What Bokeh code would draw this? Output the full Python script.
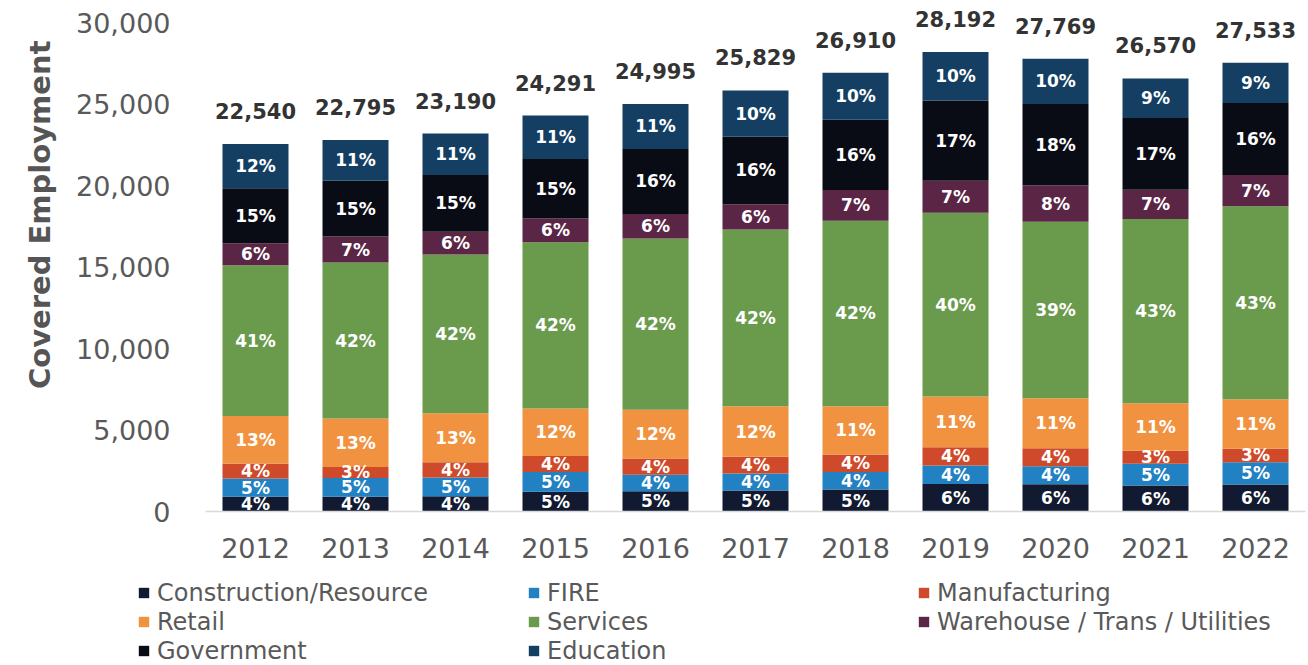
import math
from bokeh.plotting import figure
from bokeh.layouts import column
from bokeh.models import (ColumnDataSource, FactorRange, Range1d, FixedTicker,
                          NumeralTickFormatter, Legend, LegendItem, Title)
from bokeh.core.properties import value
from bokeh.embed import file_html
from bokeh.resources import INLINE

# ---------------- data ----------------
years = ["2012", "2013", "2014", "2015", "2016", "2017", "2018", "2019", "2020", "2021", "2022"]
totals = [22540, 22795, 23190, 24291, 24995, 25829, 26910, 28192, 27769, 26570, 27533]

sectors = ["Construction/Resource", "FIRE", "Manufacturing", "Retail", "Services",
           "Warehouse / Trans / Utilities", "Government", "Education"]
sector_keys = ["construction", "fire", "manufacturing", "retail", "services",
               "warehouse", "government", "education"]
colors = ["#111a30", "#2281c2", "#cf4a2a", "#f0923f", "#6a9a4c",
          "#5b2546", "#0a0c15", "#143f63"]

construction = [902, 912, 928, 1215, 1250, 1291, 1346, 1692, 1666, 1594, 1652]
fire = [1127, 1140, 1160, 1215, 1000, 1033, 1076, 1128, 1111, 1329, 1377]
manufacturing = [902, 684, 928, 972, 1000, 1033, 1076, 1128, 1111, 797, 826]
retail = [2930, 2963, 3015, 2915, 2999, 3099, 2960, 3101, 3055, 2923, 3029]
services = [9241, 9574, 9740, 10202, 10498, 10848, 11380, 11277, 10830, 11300, 11839]
warehouse = [1352, 1596, 1391, 1457, 1500, 1550, 1884, 1973, 2222, 1800, 1927]
government = [3381, 3419, 3479, 3644, 3999, 4133, 4306, 4916, 4998, 4400, 4405]
education = [2705, 2507, 2549, 2671, 2749, 2842, 2882, 2977, 2776, 2427, 2478]

pct_construction = [4, 4, 4, 5, 5, 5, 5, 6, 6, 6, 6]
pct_fire = [5, 5, 5, 5, 4, 4, 4, 4, 4, 5, 5]
pct_manufacturing = [4, 3, 4, 4, 4, 4, 4, 4, 4, 3, 3]
pct_retail = [13, 13, 13, 12, 12, 12, 11, 11, 11, 11, 11]
pct_services = [41, 42, 42, 42, 42, 42, 42, 40, 39, 43, 43]
pct_warehouse = [6, 7, 6, 6, 6, 6, 7, 7, 8, 7, 7]
pct_government = [15, 15, 15, 15, 16, 16, 16, 17, 18, 17, 16]
pct_education = [12, 11, 11, 11, 11, 10, 10, 10, 10, 9, 9]

y_ticks = [0, 5000, 10000, 15000, 20000, 25000, 30000]

series = [construction, fire, manufacturing, retail, services, warehouse, government, education]
pcts = [pct_construction, pct_fire, pct_manufacturing, pct_retail, pct_services,
        pct_warehouse, pct_government, pct_education]

FONT = "DejaVu Sans"

source = ColumnDataSource(dict(year=years, **{k: s for k, s in zip(sector_keys, series)}))

p = figure(x_range=FactorRange(*years, range_padding=0),
           y_range=Range1d(0, 31350),
           width=1308, height=575,
           min_border_left=205, min_border_right=3,
           min_border_top=0, min_border_bottom=64,
           output_backend="svg", toolbar_location=None,
           background_fill_color="white", border_fill_color="white")
p.frame_align = False

renderers = p.vbar_stack(sector_keys, x="year", width=0.66, color=colors,
                         line_color=None, source=source)

# segment percent labels
lx, ly, lt = [], [], []
for i, yr in enumerate(years):
    base = 0
    for s, pc in zip(series, pcts):
        lx.append(yr)
        ly.append(base + s[i] / 2)
        lt.append(f"{pc[i]}%")
        base += s[i]
p.text(x=lx, y=ly, text=lt, text_color="white", text_font=value(FONT),
       text_font_style="bold", text_font_size="17px",
       text_align="center", text_baseline="middle")

# total labels
p.text(x=years, y=totals, text=[f"{t:,}" for t in totals], y_offset=-33,
       text_color="#333333", text_font=value(FONT), text_font_style="bold",
       text_font_size="21px", text_align="center", text_baseline="middle")

# axes
p.xgrid.visible = False
p.ygrid.visible = False
p.outline_line_color = None

p.xaxis.axis_line_color = "#d9d9d9"
p.xaxis.axis_line_width = 1.5
p.xaxis.major_tick_line_color = None
p.xaxis.minor_tick_line_color = None
p.xaxis.major_label_text_font = FONT
p.xaxis.major_label_text_font_size = "27px"
p.xaxis.major_label_text_color = "#595959"
p.xaxis.major_label_standoff = 20

p.yaxis.axis_line_color = None
p.yaxis.major_tick_line_color = None
p.yaxis.minor_tick_line_color = None
p.yaxis.ticker = FixedTicker(ticks=y_ticks)
p.yaxis.formatter = NumeralTickFormatter(format="0,0")
p.yaxis.major_label_text_font = FONT
p.yaxis.major_label_text_font_size = "27px"
p.yaxis.major_label_text_color = "#595959"
p.yaxis.major_label_standoff = 29

ytitle = Title(text="Covered Employment", align="right", offset=40,
               vertical_align="bottom", standoff=34,
               text_font=FONT, text_font_style="bold", text_font_size="29px",
               text_color="#555555")
p.add_layout(ytitle, "left")

# ---------------- legend (separate strip below the chart) ----------------
lg = figure(width=1308, height=90, x_range=Range1d(0, 1308), y_range=Range1d(0, 90),
            min_border=0, output_backend="svg", toolbar_location=None,
            x_axis_location=None, y_axis_location=None,
            background_fill_color="white", border_fill_color="white")
lg.frame_align = False
lg.xgrid.visible = False
lg.ygrid.visible = False
lg.outline_line_color = None

# hidden copies of each series, used only for their legend swatches
swatches = [lg.vbar(x=list(range(len(years))), top=s, width=0.66, color=c,
                    line_color=None, visible=False)
            for s, c in zip(series, colors)]
items = [LegendItem(label=name, renderers=[r]) for name, r in zip(sectors, swatches)]
legend = Legend(items=items, orientation="horizontal", ncols=3,
                location=(137, 0), margin=0, padding=0, spacing=0,
                glyph_width=13, glyph_height=13, label_standoff=7,
                label_width=370, label_height=29,
                label_text_font=FONT, label_text_font_size="24px",
                label_text_color="#595959",
                border_line_color=None, background_fill_alpha=0)
lg.add_layout(legend)

layout = column(p, lg, spacing=0)
open("out.html", "w").write(file_html(layout, INLINE))
